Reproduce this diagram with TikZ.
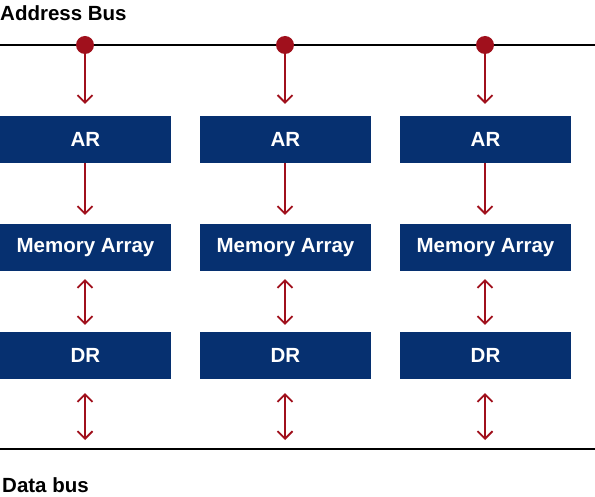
\documentclass[tikz,border=0pt]{standalone}
\usepackage{fontspec}
\setmainfont{Liberation Sans}
\usepackage{tikz}
\usetikzlibrary{arrows.meta,positioning}
\definecolor{boxnavy}{RGB}{6,48,112}
\definecolor{sigred}{RGB}{160,16,28}

\begin{document}
\begin{tikzpicture}[x=1pt,y=-1pt,
  every node/.style={font=\fontsize{20.5}{24}\selectfont\bfseries},
  unit/.style={fill=boxnavy,text=white,minimum width=171pt,minimum height=47pt,inner sep=0pt},
  bus/.style={draw=black,line width=2pt},
  tap/.style={circle,fill=sigred,inner sep=0pt,minimum size=18pt},
  sig/.style={-{Straight Barb[length=7.5pt,width=15pt]},sigred,line width=1.8pt},
  sigboth/.style={{Straight Barb[length=7.5pt,width=15pt]}-{Straight Barb[length=7.5pt,width=15pt]},sigred,line width=1.8pt},
  lbl/.style={anchor=west,inner sep=0pt}]

\useasboundingbox (0,0) rectangle (595,497);

% --- buses
\node[lbl] (abus) at (0,13) {Address Bus};
\draw[bus] (0,45) -- (595,45);
\draw[bus] (0,449) -- (595,449);
\node[lbl] (dbus) at (2,485) {Data bus};

% --- memory modules
\foreach \x/\n in {85.5/1, 285.5/2, 485.5/3}{
  \node[tap] (tap\n) at (\x-0.5,45) {};
  \node[unit] (ar\n) at (\x,139.5) {AR};
  \node[unit] (ma\n) at (\x,247.5) {Memory Array};
  \node[unit] (dr\n) at (\x,355.5) {DR};
  \coordinate (db\n) at (\x-0.5,449);
  \draw[sig,shorten >=12pt] (tap\n.south) -- (tap\n.south |- ar\n.north);
  \draw[sig,shorten >=9pt] (ar\n.south -| tap\n) -- (ma\n.north -| tap\n);
  \draw[sigboth,shorten <=8pt,shorten >=7pt] (ma\n.south -| tap\n) -- (dr\n.north -| tap\n);
  \draw[sigboth,shorten <=14pt,shorten >=9pt] (dr\n.south -| tap\n) -- (db\n);
}
\end{tikzpicture}
\end{document}
